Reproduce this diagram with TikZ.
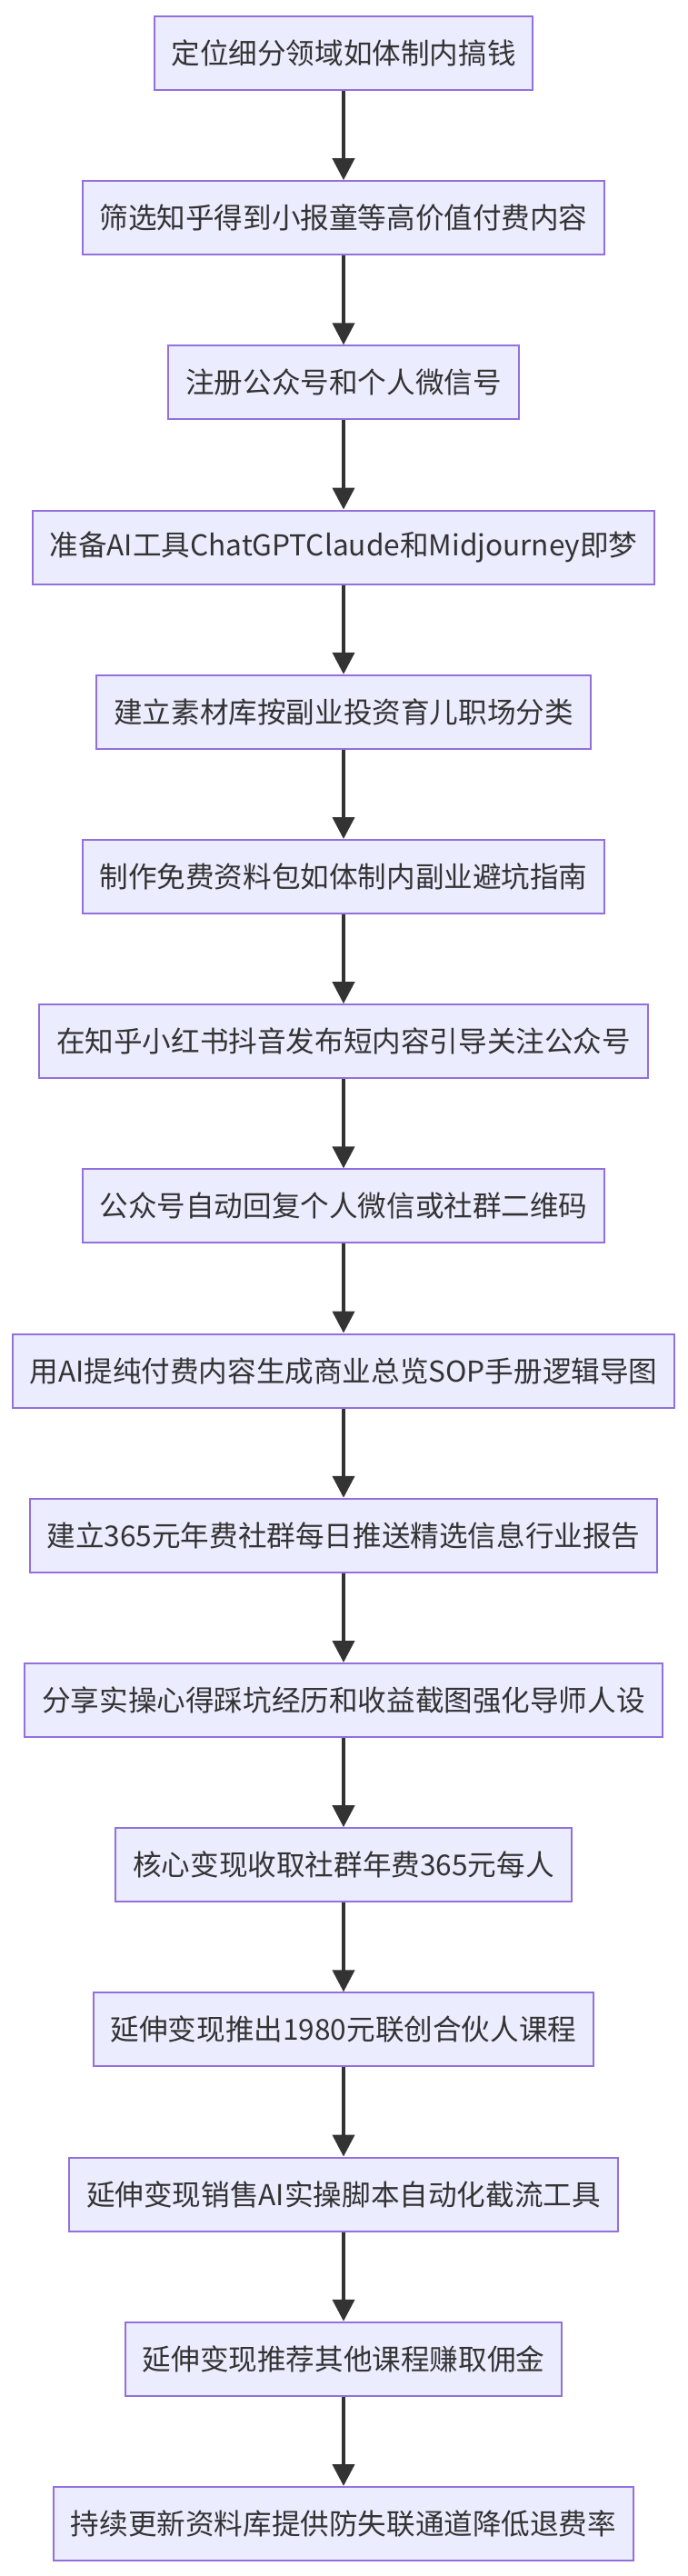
\documentclass[tikz,border=0pt]{standalone}
\usepackage{fontspec}
\setmainfont{Noto Sans CJK SC}
\usepackage{tikz}
\usetikzlibrary{positioning,arrows.meta}

\definecolor{boxfill}{HTML}{ECECFF}
\definecolor{boxline}{HTML}{9370DB}
\definecolor{inkgray}{HTML}{333333}

\begin{document}
\begin{tikzpicture}[
    stepbox/.style={draw=boxline, fill=boxfill, line width=1pt, text=inkgray,
      font=\fontsize{15.8pt}{19pt}\selectfont, minimum height=40.5pt,
      inner xsep=9.4pt, inner ysep=0pt, align=center},
    flow/.style={-{Triangle[width=12pt,length=12pt]}, draw=inkgray, line width=2pt},
]
  \useasboundingbox (0,0) rectangle (378pt,-1417pt);

  % main chain, top to bottom
  \node[stepbox] (s1)  at (189pt,-29.25pt)   {定位细分领域如体制内搞钱};
  \node[stepbox] (s2)  at (189pt,-119.85pt)  {筛选知乎得到小报童等高价值付费内容};
  \node[stepbox] (s3)  at (189pt,-210.45pt)  {注册公众号和个人微信号};
  \node[stepbox] (s4)  at (189pt,-301.05pt)  {准备AI工具ChatGPTClaude和Midjourney即梦};
  \node[stepbox] (s5)  at (189pt,-391.65pt)  {建立素材库按副业投资育儿职场分类};
  \node[stepbox] (s6)  at (189pt,-482.25pt)  {制作免费资料包如体制内副业避坑指南};
  \node[stepbox] (s7)  at (189pt,-572.85pt)  {在知乎小红书抖音发布短内容引导关注公众号};
  \node[stepbox] (s8)  at (189pt,-663.45pt)  {公众号自动回复个人微信或社群二维码};
  \node[stepbox] (s9)  at (189pt,-754.05pt)  {用AI提纯付费内容生成商业总览SOP手册逻辑导图};
  \node[stepbox] (s10) at (189pt,-844.65pt)  {建立365元年费社群每日推送精选信息行业报告};
  \node[stepbox] (s11) at (189pt,-935.25pt)  {分享实操心得踩坑经历和收益截图强化导师人设};
  \node[stepbox] (s12) at (189pt,-1025.85pt) {核心变现收取社群年费365元每人};
  \node[stepbox] (s13) at (189pt,-1116.45pt) {延伸变现推出1980元联创合伙人课程};
  \node[stepbox] (s14) at (189pt,-1207.05pt) {延伸变现销售AI实操脚本自动化截流工具};
  \node[stepbox] (s15) at (189pt,-1297.65pt) {延伸变现推荐其他课程赚取佣金};
  \node[stepbox] (s16) at (189pt,-1388.25pt) {持续更新资料库提供防失联通道降低退费率};

  \draw[flow] (s1.south) -- (s2.north);
  \draw[flow] (s2.south) -- (s3.north);
  \draw[flow] (s3.south) -- (s4.north);
  \draw[flow] (s4.south) -- (s5.north);
  \draw[flow] (s5.south) -- (s6.north);
  \draw[flow] (s6.south) -- (s7.north);
  \draw[flow] (s7.south) -- (s8.north);
  \draw[flow] (s8.south) -- (s9.north);
  \draw[flow] (s9.south) -- (s10.north);
  \draw[flow] (s10.south) -- (s11.north);
  \draw[flow] (s11.south) -- (s12.north);
  \draw[flow] (s12.south) -- (s13.north);
  \draw[flow] (s13.south) -- (s14.north);
  \draw[flow] (s14.south) -- (s15.north);
  \draw[flow] (s15.south) -- (s16.north);
\end{tikzpicture}
\end{document}
